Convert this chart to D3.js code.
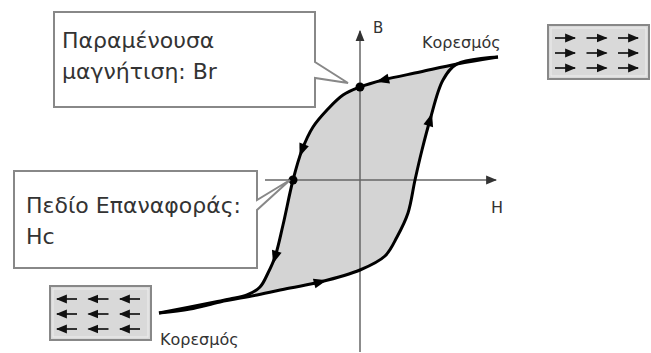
<!DOCTYPE html>
<html>
<head>
<meta charset="utf-8">
<script src="https://cdn.jsdelivr.net/npm/d3@7"></script>
<style>
    html, body { margin: 0; padding: 0; background: #fff; }
    svg { display: block; }
    text { font-family: "DejaVu Sans", sans-serif; fill: #333; }
</style>
</head>
<body>
<div id="chart"></div>
<script>
// hysteresis loop (H and B in arbitrary units)
const hDesc = [13.8, 9.7, 6.0, 2.3, 0, -1.7, -3.3, -4.7, -5.8, -6.7, -7.7, -8.5, -9.2, -10.0, -11.3, -13.0, -14.5, -20.1];
const bDesc = [12.3, 11.6, 10.8, 10.0, 9.3, 8.5, 7.0, 5.3, 3.0, 0, -4.5, -7.7, -9.3, -10.7, -11.5, -11.9, -12.2, -13.3];
const hAsc = [-20.1, -17.0, -14.0, -10.3, -7.0, -4.0, 0, 2.5, 3.7, 4.8, 5.5, 6.2, 7.0, 8.3, 9.7, 13.8];
const bAsc = [-13.3, -12.9, -12.2, -11.5, -10.8, -10.2, -9.0, -7.6, -5.7, -3.3, 0, 3.0, 6.0, 10.0, 11.6, 12.3];

// points of each branch that carry a direction arrow
const arrowsDesc = [3, 8, 11];
const arrowsAsc = [5, 12];

// remanence and coercivity
const remanenceB = 9.3;
const coerciveH = -6.7;

const labels = {
    br: ["Παραμένουσα", "μαγνήτιση: Br"],
    hc: ["Πεδίο Επαναφοράς:", "Hc"],
    sat: "Κορεσμός",
    h: "H",
    b: "B"
};

// domain pictures: 3 x 3 little moments
const domainRows = [0, 1, 2];
const domainCols = [0, 1, 2];

const width = 651, height = 353;

const x = d3.scaleLinear().domain([-10, 10]).range([260, 460]);
const y = d3.scaleLinear().domain([-10, 10]).range([280, 80]);

const svg = d3.select("#chart").append("svg")
    .attr("width", width)
    .attr("height", height);

const defs = svg.append("defs");
function arrowMarker(id, color, size) {
    defs.append("marker")
        .attr("id", id)
        .attr("viewBox", "0 0 10 10")
        .attr("refX", 9).attr("refY", 5)
        .attr("markerUnits", "userSpaceOnUse")
        .attr("markerWidth", size).attr("markerHeight", size)
        .attr("orient", "auto")
        .append("path")
        .attr("d", "M0,1 L10,5 L0,9 Z")
        .attr("fill", color);
}
arrowMarker("axisHead", "#333", 11);
arrowMarker("smallHead", "#111", 11);

const desc = hDesc.map((h, i) => [h, bDesc[i]]);
const asc = hAsc.map((h, i) => [h, bAsc[i]]);

const line = d3.line()
    .x(d => x(d[0]))
    .y(d => y(d[1]))
    .curve(d3.curveCatmullRom.alpha(0.5));

// grey area inside the loop: down one branch, back up the other
svg.append("path")
    .attr("d", line(desc) + "L" + line(asc).slice(1) + "Z")
    .attr("fill", "#d4d4d4")
    .attr("stroke", "none");

// axes, plain lines with an arrow at the end
svg.append("line")
    .attr("x1", x(-9.5)).attr("y1", y(0))
    .attr("x2", x(13.6)).attr("y2", y(0))
    .attr("stroke", "#666").attr("stroke-width", 1.5)
    .attr("marker-end", "url(#axisHead)");
svg.append("line")
    .attr("x1", x(0)).attr("y1", y(-17.2))
    .attr("x2", x(0)).attr("y2", y(14.9))
    .attr("stroke", "#666").attr("stroke-width", 1.5)
    .attr("marker-end", "url(#axisHead)");

svg.append("text").attr("x", x(1.3)).attr("y", y(14.7))
    .attr("font-size", 15).text(labels.b);
svg.append("text").attr("x", x(13.1)).attr("y", y(-3.3))
    .attr("font-size", 16).text(labels.h);

// the two branches
[desc, asc].forEach(pts => {
    svg.append("path")
        .attr("d", line(pts))
        .attr("fill", "none")
        .attr("stroke", "#000")
        .attr("stroke-width", 3)
        .attr("stroke-linejoin", "round");
});

function drawArrows(pts, idx) {
    idx.forEach(i => {
        const a = pts[i - 1], b = pts[i + 1];
        const ang = Math.atan2(y(b[1]) - y(a[1]), x(b[0]) - x(a[0])) * 180 / Math.PI;
        svg.append("path")
            .attr("d", "M7,0 L-6,-5 L-6,5 Z")
            .attr("fill", "#000")
            .attr("transform", `translate(${x(pts[i][0])},${y(pts[i][1])}) rotate(${ang})`);
    });
}
drawArrows(desc, arrowsDesc);
drawArrows(asc, arrowsAsc);

// Br and Hc points
svg.append("circle").attr("cx", x(0)).attr("cy", y(remanenceB)).attr("r", 4.5).attr("fill", "#000");
svg.append("circle").attr("cx", x(coerciveH)).attr("cy", y(0)).attr("r", 4.5).attr("fill", "#000");

// callouts
function callout(box, p1, p2, tip, lines, tx, ty) {
    const [x0, y0, x1, y1] = box;
    svg.append("path")
        .attr("d", `M${x0},${y0} H${x1} V${p1} L${tip[0]},${tip[1]} L${x1},${p2} V${y1} H${x0} Z`)
        .attr("fill", "#fff")
        .attr("stroke", "#888")
        .attr("stroke-width", 2);
    svg.append("text")
        .attr("x", tx).attr("y", ty)
        .attr("font-size", 22)
        .selectAll("tspan")
        .data(lines)
        .enter().append("tspan")
        .attr("x", tx)
        .attr("dy", (d, i) => i ? 31 : 0)
        .text(d => d);
}
callout([54, 12, 315, 107], 62, 78, [x(0) - 12, y(remanenceB) - 4], labels.br, 62, 48);
callout([14, 171, 257, 268], 200, 210, [x(coerciveH) - 3, y(0)], labels.hc, 26, 213);

// saturation labels
svg.append("text").attr("x", x(hDesc[0]) - 76).attr("y", 48)
    .attr("font-size", 16).text(labels.sat);
svg.append("text").attr("x", x(hAsc[0]) + 1).attr("y", 345)
    .attr("font-size", 16).text(labels.sat);

// domain pictures at the two saturations, dir +1 right, -1 left
function domainBox(bx, by, dir) {
    const g = svg.append("g").attr("transform", `translate(${bx},${by})`);
    g.append("rect").attr("width", 101).attr("height", 54)
        .attr("fill", "#d9d9d9").attr("stroke", "#888").attr("stroke-width", 2);
    g.append("rect").attr("x", 3).attr("y", 3).attr("width", 95).attr("height", 48)
        .attr("fill", "none").attr("stroke", "#eee").attr("stroke-width", 1);
    domainRows.forEach(r => domainCols.forEach(c => {
        const cx = 17 + c * 31.5, cy = 13 + r * 15;
        g.append("line")
            .attr("x1", cx - dir * 10).attr("y1", cy)
            .attr("x2", cx + dir * 10).attr("y2", cy)
            .attr("stroke", "#333").attr("stroke-width", 2)
            .attr("marker-end", "url(#smallHead)");
    }));
}
domainBox(548, 25, 1);
domainBox(50, 286, -1);
</script>
</body>
</html>
